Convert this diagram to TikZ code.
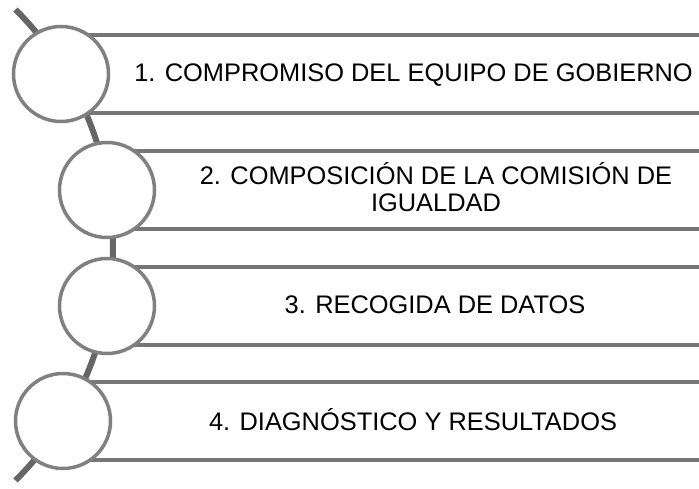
\documentclass[tikz,border=0pt]{standalone}
\usepackage{fontspec}
\setmainfont{Liberation Sans}
\begin{document}
\begin{tikzpicture}[x=1pt,y=1pt,
  ring/.style={circle,draw=ringgray,line width=3.5pt,fill=white,minimum size=95pt,inner sep=0pt},
  bar/.style={draw=bargray,line width=4pt},
  spine/.style={draw=spinegray,line width=6pt},
  label/.style={inner sep=0pt,font=\fontsize{25.4}{27}\selectfont,text=black}]
\definecolor{ringgray}{HTML}{808080}
\definecolor{bargray}{HTML}{767676}
\definecolor{spinegray}{HTML}{666666}
\useasboundingbox (0,0) rectangle (699,488);
% spine arc
\draw[spine] (-220,243) ++(45:333) arc[start angle=45,end angle=-45,radius=333];
% bars
\foreach \cy/\cx in {414/61,298/107,182/107,67/63}{
  \draw[bar] (\cx,\cy+39) -- (702,\cy+39);
  \draw[bar] (\cx,\cy-39) -- (702,\cy-39);
}
% circles
\node[ring] (c1) at (61,414) {};
\node[ring] (c2) at (107,298) {};
\node[ring] (c3) at (107,182) {};
\node[ring] (c4) at (63,67) {};
% texts
\node[label,anchor=base] (t1) at (413.5,406.5) {1. COMPROMISO DEL EQUIPO DE GOBIERNO};
\node[label,anchor=south,align=center,text depth=0pt] (t2) at (436,276) {2. COMPOSICIÓN DE LA COMISIÓN DE\\IGUALDAD};
\node[label,anchor=base] (t3) at (435,175) {3. RECOGIDA DE DATOS};
\node[label,anchor=base] (t4) at (413,58) {4. DIAGNÓSTICO Y RESULTADOS};
\end{tikzpicture}
\end{document}
